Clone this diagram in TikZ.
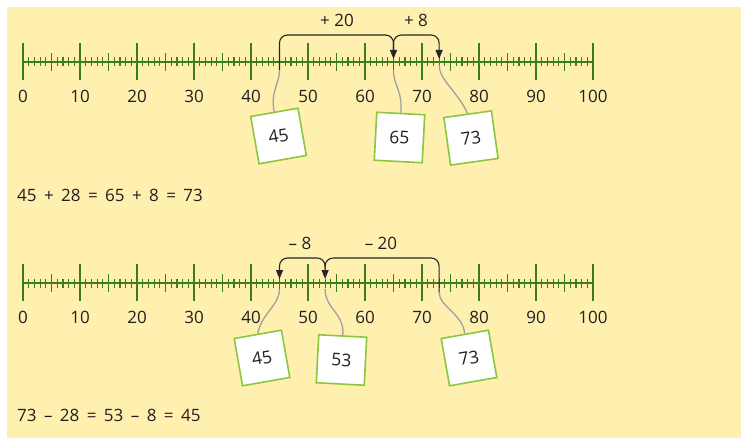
\documentclass[tikz,border=0pt]{standalone}
\usepackage{fontspec}
\setmainfont{Open Sans}
\usetikzlibrary{arrows.meta,calc}
\definecolor{bgyellow}{RGB}{255,240,175}
\definecolor{linegreen}{RGB}{58,125,30}
\definecolor{boxgreen}{RGB}{141,198,63}
\definecolor{leadgray}{RGB}{160,160,160}
\definecolor{txt}{RGB}{35,31,32}
\newcommand{\opsp}[1]{\hspace{3pt}#1\hspace{3pt}}
\tikzset{
  numlbl/.style={font=\fontsize{17}{17}\selectfont, text=txt, inner sep=0pt},
  card/.style={draw=boxgreen, line width=1.6pt, fill=white, minimum width=48pt, minimum height=48pt, inner sep=0pt, font=\fontsize{17.5}{17}\selectfont, text=txt},
  jump/.style={draw=black!85, line width=1.1pt, rounded corners=8pt},
  jumparrow/.style={jump, -{Triangle[length=9pt,width=7pt]}},
  leader/.style={draw=leadgray, line width=1.3pt},
  eqn/.style={font=\fontsize{17}{17}\selectfont, text=txt, anchor=west, inner sep=0pt},
  major/.style={draw=linegreen, line width=2.4pt},
  medium/.style={draw=linegreen, line width=1.4pt},
  minor/.style={draw=linegreen, line width=1.2pt},
  axis/.style={draw=linegreen, line width=2.2pt},
}
\begin{document}
\begin{tikzpicture}[x=1pt,y=-1pt]
\useasboundingbox (0,0) rectangle (741,441);
\fill[white] (0,0) rectangle (741,441);
\fill[bgyellow] (7,7) rectangle (741,438);

% ---------- number lines ----------
\foreach \ly/\row in {62/1, 283/2}{
  \draw[axis] (23,\ly) -- (593,\ly);
  \foreach \i in {0,...,100}{
    \pgfmathsetmacro{\xx}{23+5.7*\i}
    \pgfmathtruncatemacro{\mten}{mod(\i,10)}
    \pgfmathtruncatemacro{\mfive}{mod(\i,5)}
    \ifnum\mten=0
      \draw[major] (\xx,\ly-19) -- (\xx,\ly+18);
    \else\ifnum\mfive=0
      \draw[medium] (\xx,\ly-9) -- (\xx,\ly+9);
    \else
      \draw[minor] (\xx,\ly-4.5) -- (\xx,\ly+4.5);
    \fi\fi
  }
  \foreach \v in {0,10,...,100}{
    \node[numlbl] (l\row n\v) at (23+5.7*\v,\ly+34) {\v};
  }
}

% coordinates on line 1
\coordinate (p45) at (279.5,62);
\coordinate (p65) at (393.5,62);
\coordinate (p73) at (439.1,62);
% coordinates on line 2
\coordinate (q45) at (279.5,283);
\coordinate (q53) at (325.1,283);
\coordinate (q73) at (439.1,283);

% ---------- row 1 cards ----------
\node[card, rotate=10] (c45) at (278.5,136) {45};
\node[card, rotate=-3] (c65) at (399.5,137.5) {65};
\node[card, rotate=8] (c73) at (471,138) {73};

\draw[leader] (c45.north) .. controls ++(-4,-20) and ($(p45)+(0,22)$) .. ($(p45)+(0,8)$);
\draw[leader] (c65.north) .. controls ++(2,-22) and ($(p65)+(0,24)$) .. ($(p65)+(0,8)$);
\draw[leader] (c73.north) .. controls ++(-10,-22) and ($(p73)+(0,18)$) .. ($(p73)+(0,3)$);

% jumps row 1
\draw[jumparrow] ($(p45)+(0,8)$) -- ($(p45)+(0,-27)$) -- ($(p65)+(0,-27)$) -- ($(p65)+(0,-3)$);
\draw[jumparrow] ($(p65)+(0,-12)$) -- ($(p65)+(0,-27)$) -- ($(p73)+(0,-27)$) -- ($(p73)+(0,-3)$);
\node[numlbl] (j20) at (337,20) {+ 20};
\node[numlbl] (j8) at (416,20) {+ 8};

\node[eqn] (eq1) at (17,195) {45\opsp{ + }28\opsp{ = }65\opsp{ + }8\opsp{ = }73};

% ---------- row 2 cards ----------
\node[card, rotate=10] (d45) at (262,358) {45};
\node[card, rotate=-3] (d53) at (341.5,360) {53};
\node[card, rotate=10] (d73) at (469,358) {73};

\draw[leader] (d45.north) .. controls ++(4,-20) and ($(q45)+(0,22)$) .. ($(q45)+(0,6)$);
\draw[leader] (d53.north) .. controls ++(2,-22) and ($(q53)+(0,26)$) .. ($(q53)+(0,6)$);
\draw[leader] (d73.north) .. controls ++(-2,-20) and ($(q73)+(0,24)$) .. ($(q73)+(0,9)$);

% jumps row 2
\draw[jumparrow] ($(q73)+(0,9)$) -- ($(q73)+(0,-25)$) -- ($(q53)+(0,-25)$) -- ($(q53)+(0,-4)$);
\draw[jumparrow] ($(q53)+(0,-14)$) -- ($(q53)+(0,-25)$) -- ($(q45)+(0,-25)$) -- ($(q45)+(0,-4)$);
\node[numlbl] (k8) at (300,243) {– 8};
\node[numlbl] (k20) at (381,243) {– 20};

\node[eqn] (eq2) at (17,415) {73\opsp{ – }28\opsp{ = }53\opsp{ – }8\opsp{ = }45};
\end{tikzpicture}
\end{document}
